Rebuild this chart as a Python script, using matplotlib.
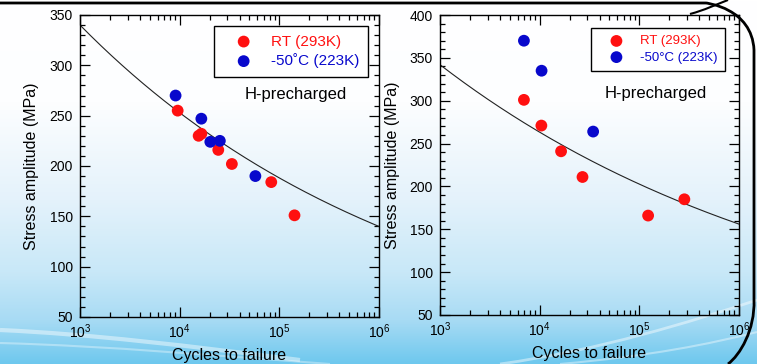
import matplotlib
matplotlib.use("Agg")
import matplotlib.pyplot as plt
import numpy as np
from matplotlib.path import Path
from matplotlib.patches import PathPatch
from matplotlib.ticker import MultipleLocator, LogLocator, NullFormatter

plt.rcParams['font.family'] = ['Liberation Sans', 'DejaVu Sans']
plt.rcParams['mathtext.fontset'] = 'custom'
plt.rcParams['mathtext.rm'] = 'Liberation Sans'
plt.rcParams['mathtext.it'] = 'Liberation Sans:italic'

# left panel
left_rt_cycles = [9550, 15500, 16500, 24400, 33400, 83000, 142000]
left_rt_stress = [255, 230, 232, 216, 202, 184, 151]
left_lt_cycles = [9100, 16500, 20300, 25300, 57500]
left_lt_stress = [270, 247, 224, 225, 190]
left_fit = (340.0, -0.1285)   # S = A * (N / 1e3)^b

# right panel
right_rt_cycles = [6950, 10400, 16400, 26900, 122500, 283000]
right_rt_stress = [301, 271, 241, 211, 166, 185]
right_lt_cycles = [6950, 10450, 34400]
right_lt_stress = [370, 335, 264]
right_fit = (342.0, -0.1136)

RED = '#ff1010'
BLUE = '#0808cc'

W, H = 757, 364
fig = plt.figure(figsize=(W / 100, H / 100), dpi=100)

# background: white to light blue gradient with swooshes and frame line
bg = fig.add_axes([0, 0, 1, 1], zorder=-5)
stops = np.array([0.0, 0.28, 0.55, 0.75, 0.88, 1.0])
cols = np.array([[255, 255, 255], [253, 254, 255], [228, 242, 251],
                 [200, 232, 248], [168, 219, 244], [110, 200, 238]]) / 255.0
t = np.linspace(0, 1, 256)
grad = np.stack([np.interp(t, stops, cols[:, i]) for i in range(3)], axis=1)
bg.imshow(grad[:, None, :], extent=[0, W, H, 0], aspect='auto', interpolation='bilinear')
for verts, lw, a in [
    ([(0, 330), (90, 334), (190, 346), (300, 360)], 3, 0.45),
    ([(0, 343), (110, 346), (220, 356), (330, 364)], 1.5, 0.35),
    ([(500, 364), (600, 350), (690, 322), (757, 300)], 2, 0.45),
    ([(560, 364), (650, 356), (710, 344), (757, 332)], 1.5, 0.4),
]:
    p = Path(verts, [Path.MOVETO, Path.CURVE4, Path.CURVE4, Path.CURVE4])
    bg.add_patch(PathPatch(p, fc='none', ec='white', lw=lw, alpha=a))
frame = Path([(0, 3), (706, 3), (706, 3), (752, 8), (754, 50), (754, 300),
              (755, 330), (740, 355), (728, 364)],
             [Path.MOVETO, Path.LINETO, Path.CURVE4, Path.CURVE4, Path.CURVE4,
              Path.LINETO, Path.CURVE4, Path.CURVE4, Path.CURVE4])
bg.add_patch(PathPatch(frame, fc='none', ec='black', lw=2.0))
hook = Path([(690, 14), (705, 10), (715, 5), (728, 0)],
            [Path.MOVETO, Path.CURVE4, Path.CURVE4, Path.CURVE4])
bg.add_patch(PathPatch(hook, fc='none', ec='black', lw=1.5))
bg.set_xlim(0, W)
bg.set_ylim(H, 0)
bg.axis('off')


def panel(rect, rt_x, rt_y, lt_x, lt_y, fit, ylim, deg, leg_fs, leg_anchor, ylabelpad):
    ax = fig.add_axes(rect)
    ax.set_facecolor('none')
    ax.set_xscale('log')
    ax.set_xlim(1e3, 1e6)
    ax.set_ylim(*ylim)

    n = np.logspace(3, 6, 200)
    ax.plot(n, fit[0] * (n / 1e3) ** fit[1], color='#222222', lw=0.8, zorder=2)
    ax.scatter(rt_x, rt_y, s=72, color=RED, edgecolors='none', zorder=3,
               label='RT (293K)')
    ax.scatter(lt_x, lt_y, s=72, color=BLUE, edgecolors='none', zorder=3,
               label='-50' + deg + 'C (223K)')

    ax.yaxis.set_major_locator(MultipleLocator(50))
    ax.yaxis.set_minor_locator(MultipleLocator(10))
    ax.xaxis.set_major_locator(LogLocator(base=10, numticks=10))
    ax.xaxis.set_minor_locator(LogLocator(base=10, subs=np.arange(2, 10), numticks=10))
    ax.xaxis.set_minor_formatter(NullFormatter())
    ax.tick_params(which='both', direction='in', top=True, right=True,
                   labelsize=10, width=0.9, colors='black')
    ax.tick_params(which='major', length=7)
    ax.tick_params(which='minor', length=3.5)
    ax.tick_params(axis='y', pad=5)
    ax.tick_params(axis='x', pad=4)
    for sp in ax.spines.values():
        sp.set_linewidth(1.0)

    ax.set_xlabel('Cycles to failure', fontsize=11.5, labelpad=5)
    ax.set_ylabel('Stress amplitude (MPa)', fontsize=11.5, labelpad=ylabelpad)

    leg = ax.legend(loc='upper right', bbox_to_anchor=leg_anchor, fontsize=leg_fs,
                    frameon=True, fancybox=False, edgecolor='black', framealpha=1,
                    facecolor='white', handlelength=2.8, handletextpad=0.4,
                    borderpad=0.55, labelspacing=0.3, borderaxespad=0,
                    labelcolor='markerfacecolor', scatterpoints=1)
    leg.get_frame().set_linewidth(1.0)
    ax.text(0.72, 0.738, 'H-precharged', transform=ax.transAxes, fontsize=12,
            ha='center', va='center')
    return ax


panel([80 / W, 1 - 317 / H, 299 / W, 302 / H],
      left_rt_cycles, left_rt_stress, left_lt_cycles, left_lt_stress,
      left_fit, (50, 350), '\u02da', 11, (0.963, 0.963), 8)
panel([440 / W, 1 - 315 / H, 299 / W, 300 / H],
      right_rt_cycles, right_rt_stress, right_lt_cycles, right_lt_stress,
      right_fit, (50, 400), '\u00b0', 9.5, (0.953, 0.957), 7)

fig.savefig('out.png', dpi=100)
